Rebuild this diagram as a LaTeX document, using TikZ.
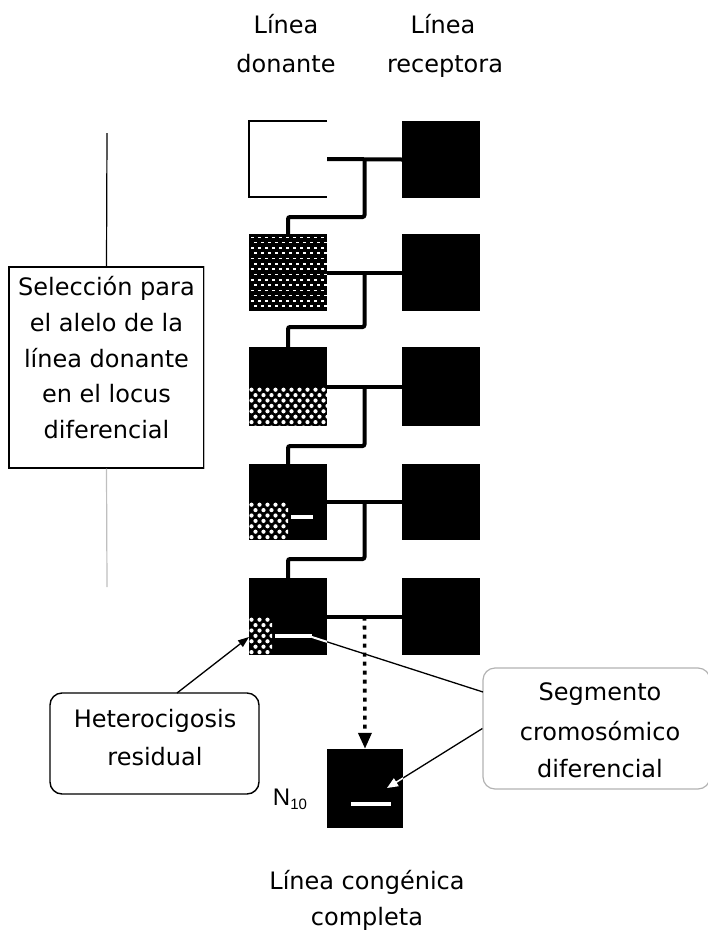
\documentclass[tikz,border=0pt]{standalone}
\usepackage{fontspec}
\setmainfont{DejaVu Sans}
\newfontfamily\arialfont{Liberation Sans}
\usetikzlibrary{calc,arrows.meta}
\newcommand\mychecker[4]{%
  \begin{scope}
    \clip (#1,#2) rectangle (#3,#4);
    \foreach \j in {0,...,8} {
      \foreach \i in {0,...,10} {
        \fill[white] ({#1+2.5+8*\i+4*mod(\j,2)},{#2+2.7+5.4*\j}) circle (2.1);
      }
    }
  \end{scope}}
\begin{document}
\begin{tikzpicture}[x=1pt,y=-1pt,
  txt/.style={font=\fontsize{24}{30}\selectfont, anchor=base, inner sep=0},
  blk/.style={fill=black, inner sep=0, minimum width=78pt},
  frame/.style={inner sep=0, minimum width=78pt},
  conn/.style={line width=4pt},
  dotc/.style={line width=3.6pt, dash pattern=on 4pt off 5pt, -{Triangle[width=13pt,length=16pt]}},
  thinarrow/.style={line width=1.3pt},
]
\useasboundingbox (0,0) rectangle (708,932);

% headers
\node[txt] (h1a) at (286,33) {Línea};
\node[txt] (h1b) at (286,72) {donante};
\node[txt] (h2a) at (443,33) {Línea};
\node[txt] (h2b) at (445,72) {receptora};

% donor boxes
\node[frame, minimum height=76pt] (d1) at (288,159) {};
\node[blk, minimum height=77pt] (d2) at (288,272.5) {};
\node[blk, minimum height=79pt] (d3) at (288,386.5) {};
\node[blk, minimum height=76pt] (d4) at (288,502) {};
\node[blk, minimum height=77pt] (d5) at (288,616.5) {};
% receptor boxes
\node[blk, minimum height=77pt] (r1) at (441,159.5) {};
\node[blk, minimum height=77pt] (r2) at (441,272.5) {};
\node[blk, minimum height=79pt] (r3) at (441,386.5) {};
\node[blk, minimum height=76pt] (r4) at (441,502) {};
\node[blk, minimum height=77pt] (r5) at (441,616.5) {};
% final box
\node[blk, minimum width=76pt, minimum height=79pt] (n10) at (365,788.5) {};

% open donor box (row 1)
\draw[line width=2pt] (d1.north east) -- (d1.north west) -- (d1.south west) -- (d1.south east);

% pattern row 2 (dense)
\begin{scope}
  \clip (d2.south west) rectangle (d2.north east);
  \foreach \j in {0,...,14} {
    \foreach \i in {0,...,11} {
      \fill[white] ({250.5+7*\i+3.5*mod(\j,2)},{236.5+5.3*\j}) rectangle ++(3.2,1.6);
    }
  }
\end{scope}
% checker patterns
\mychecker{249}{387}{327}{426}
\mychecker{249}{502}{288}{540}
\mychecker{249}{617}{272}{655}

% white segments
\draw[white, line width=4pt] (291,517) -- (313,517);
\draw[white, line width=4pt] (275,636) -- (312,636);
\draw[white, line width=4pt] (351,804) -- (391,804);

% connectors
\foreach \k in {1,...,5} {
  \draw[conn] (d\k.east) -- (r\k.west);
}
\coordinate (s1) at (288,217);
\coordinate (s2) at (288,327);
\coordinate (s3) at (288,446);
\coordinate (s4) at (288,559);
\draw[conn, rounded corners=2pt] ($(d1.east)!0.5!(r1.west)$) |- (s1) -- (d2.north);
\draw[conn, rounded corners=2pt] ($(d2.east)!0.5!(r2.west)$) |- (s2) -- (d3.north);
\draw[conn, rounded corners=2pt] ($(d3.east)!0.5!(r3.west)$) |- (s3) -- (d4.north);
\draw[conn, rounded corners=2pt] ($(d4.east)!0.5!(r4.west)$) |- (s4) -- (d5.north);
\draw[dotc] ($(d5.east)!0.5!(r5.west)$) -- (n10.north);

% left selection box
\node[draw, line width=1.4pt, inner sep=0, minimum width=195pt, minimum height=201pt] (selbox) at (106.5,367.5) {};
\draw[gray!55, line width=1.4pt] (selbox.north east) -- (selbox.south east);
\coordinate (ltop) at (107,133);
\coordinate (lbot) at (107,587);
\draw[line width=1.2pt] (ltop) -- (selbox.north);
\draw[gray!50, line width=1.2pt] (selbox.south) -- (lbot);
\node[txt] (sl1) at (106.5,295) {Selección para};
\node[txt] (sl2) at (106.5,331) {el alelo de la};
\node[txt] (sl3) at (106.5,367) {línea donante};
\node[txt] (sl4) at (106.5,402) {en el locus};
\node[txt] (sl5) at (106.5,438) {diferencial};

% heterocigosis box
\node[draw, line width=1.4pt, rounded corners=12pt, inner sep=0, minimum width=209pt, minimum height=101pt] (het) at (154.5,743.5) {};
\node[txt] (ht1) at (155,727) {Heterocigosis};
\node[txt] (ht2) at (155,765) {residual};
\coordinate (hstart) at (177,693);
\coordinate (htip) at (249,637);
\draw[thinarrow, -{Triangle[width=8pt,length=11pt]}] (hstart) -- (htip);

% segmento box
\node[draw=gray!60, line width=1.2pt, rounded corners=12pt, inner sep=0, minimum width=227pt, minimum height=121pt] (seg) at (596.5,728.5) {};
\node[txt] (sg1) at (600,700) {Segmento};
\node[txt] (sg2) at (600,740) {cromosómico};
\node[txt] (sg3) at (600,777) {diferencial};
\coordinate (sa) at (483,692);
\coordinate (t1) at (312,637);
\coordinate (t2) at (387,788);
\draw[thinarrow] (sa) -- (t1);
\begin{scope}
  \clip (d5.south west) rectangle (d5.north east);
  \draw[white, line width=2pt] (sa) -- (t1);
\end{scope}
\draw[thinarrow] (seg.west) -- (t2);
\begin{scope}
  \clip (n10.south west) rectangle (n10.north east);
  \draw[white, line width=1.5pt, -{Triangle[width=9pt,length=11pt]}] (seg.west) -- (t2);
\end{scope}

% N10 label
\node[anchor=base, inner sep=0, font=\arialfont\fontsize{24}{28}\selectfont] (nlab) at (290,805) {N\raisebox{-4pt}{\fontsize{15}{15}\selectfont 10}};

% bottom text
\node[txt] (bt1) at (367,889) {Línea congénica};
\node[txt] (bt2) at (367,925) {completa};
\end{tikzpicture}
\end{document}
